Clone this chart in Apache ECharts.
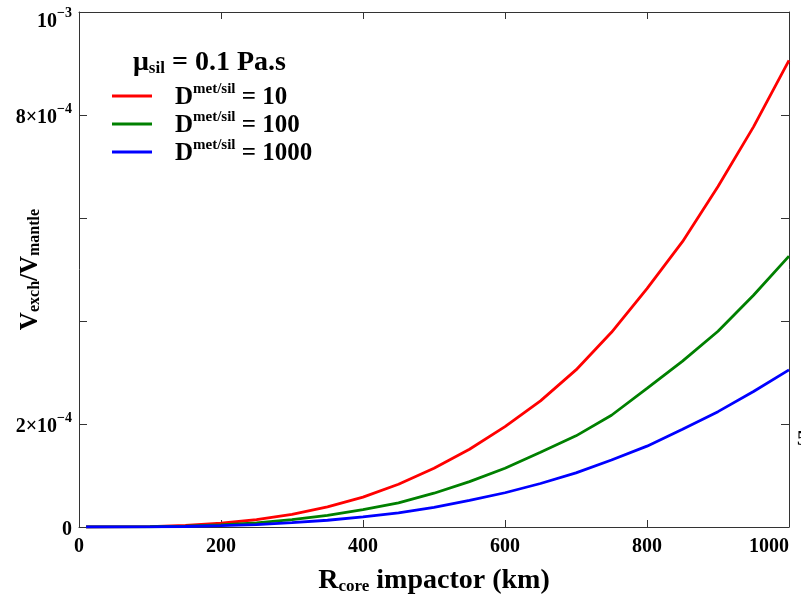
<!DOCTYPE html>
<html>
<head>
<meta charset="utf-8">
<script src="https://cdn.jsdelivr.net/npm/echarts@6/dist/echarts.min.js"></script>
<style>html,body{margin:0;padding:0;background:#fff;}#c{width:801px;height:599px;}</style>
</head>
<body>
<div id="c"></div>
<script>
// Radius of impactor core (km)
var rCore = [10, 50, 100, 150, 200, 250, 300, 350, 400, 450, 500, 550, 600, 650, 700, 750, 800, 850, 900, 950, 1000];
// V_exch / V_mantle for D = 10
var d10 = [0.00000e-4, 0.0011e-4, 0.009e-4, 0.031e-4, 0.073e-4, 0.142e-4, 0.245e-4, 0.39e-4, 0.58e-4, 0.83e-4, 1.14e-4, 1.51e-4, 1.95e-4, 2.45e-4, 3.05e-4, 3.78e-4, 4.63e-4, 5.54e-4, 6.61e-4, 7.77e-4, 9.06e-4];
// D = 100
var d100 = [0.00000e-4, 0.0007e-4, 0.005e-4, 0.018e-4, 0.042e-4, 0.082e-4, 0.142e-4, 0.226e-4, 0.337e-4, 0.47e-4, 0.656e-4, 0.88e-4, 1.14e-4, 1.45e-4, 1.77e-4, 2.17e-4, 2.69e-4, 3.22e-4, 3.80e-4, 4.50e-4, 5.26e-4];
// D = 1000
var d1000 = [0.00000e-4, 0.0004e-4, 0.003e-4, 0.010e-4, 0.025e-4, 0.048e-4, 0.083e-4, 0.131e-4, 0.196e-4, 0.275e-4, 0.38e-4, 0.515e-4, 0.665e-4, 0.845e-4, 1.05e-4, 1.30e-4, 1.57e-4, 1.90e-4, 2.24e-4, 2.63e-4, 3.05e-4];
var seriesNames = ['10', '100', '1000'];
// y tick labels (value in units of 1e-4 -> [mantissa text, exponent text]); ticks absent here are unlabeled
var yTickLabels = { 0: ['0', ''], 2: ['2×10', '−4'], 8: ['8×10', '−4'], 10: ['10', '−3'] };

var FONT = '"Liberation Serif", "Times New Roman", serif';
var chart = echarts.init(document.getElementById('c'), null, { renderer: 'canvas' });

function pairs(ys) { return rCore.map(function (x, i) { return [x, ys[i]]; }); }

var axisLineStyle = { color: '#333', width: 1 };
var option = {
  backgroundColor: '#fff',
  animation: false,
  grid: { left: 79, right: 12, top: 12, bottom: 72, containLabel: false, outerBoundsMode: 'none' },
  title: {
    text: '{m|μ}{s|sil}{m| = 0.1 Pa.s}',
    left: 128, top: 42,
    textStyle: {
      rich: {
        m: { fontFamily: FONT, fontWeight: 'bold', fontSize: 28, color: '#000', lineHeight: 30, verticalAlign: 'bottom' },
        s: { fontFamily: FONT, fontWeight: 'bold', fontSize: 17, color: '#000', lineHeight: 17, verticalAlign: 'bottom' }
      }
    }
  },
  legend: {
    orient: 'vertical',
    left: 107, top: 77,
    itemWidth: 40, itemHeight: 3, itemGap: 0,
    icon: 'rect',
    data: seriesNames.map(function (n) { return 'D' + n; }),
    formatter: function (name) {
      return '{d|D}{s|met/sil}{d| = ' + name.slice(1) + '}';
    },
    textStyle: {
      padding: [0, 0, 0, 18],
      rich: {
        d: { fontFamily: FONT, fontWeight: 'bold', fontSize: 25, color: '#000', lineHeight: 28, verticalAlign: 'bottom' },
        s: { fontFamily: FONT, fontWeight: 'bold', fontSize: 15, color: '#000', lineHeight: 13, verticalAlign: 'top' }
      }
    }
  },
  xAxis: [{
    type: 'value', min: 0, max: 1000, interval: 200, position: 'bottom',
    name: '{r|R}{s|core}{r| impactor (km)}',
    nameLocation: 'middle', nameGap: 36, nameMoveOverlap: false,
    nameTextStyle: {
      rich: {
        r: { fontFamily: FONT, fontWeight: 'bold', fontSize: 28, color: '#000', lineHeight: 32, verticalAlign: 'bottom' },
        s: { fontFamily: FONT, fontWeight: 'bold', fontSize: 17, color: '#000', lineHeight: 17, verticalAlign: 'bottom' }
      }
    },
    axisLine: { show: true, onZero: false, lineStyle: axisLineStyle },
    axisTick: { show: true, inside: true, length: 7, lineStyle: axisLineStyle },
    axisLabel: { fontFamily: FONT, fontWeight: 'bold', fontSize: 20, color: '#000', margin: 10,
      alignMaxLabel: 'right', hideOverlap: false,
      formatter: function (v) { return String(v); } },
    splitLine: { show: false }
  }, {
    type: 'value', min: 0, max: 1000, interval: 200, position: 'top',
    axisLine: { show: true, onZero: false, lineStyle: axisLineStyle },
    axisTick: { show: true, inside: true, length: 7, lineStyle: axisLineStyle },
    axisLabel: { show: false }, splitLine: { show: false }
  }],
  yAxis: [{
    type: 'value', min: 0, max: 0.001, interval: 0.0002, position: 'left',
    name: '{v|V}{s|exch}{v|/V}{s|mantle}',
    nameLocation: 'middle', nameGap: 36, nameRotate: 90, nameMoveOverlap: false,
    nameTextStyle: {
      rich: {
        v: { fontFamily: FONT, fontWeight: 'bold', fontSize: 25, color: '#000', lineHeight: 28, verticalAlign: 'bottom' },
        s: { fontFamily: FONT, fontWeight: 'bold', fontSize: 16, color: '#000', lineHeight: 16, verticalAlign: 'bottom' }
      }
    },
    axisLine: { show: true, onZero: false, lineStyle: axisLineStyle },
    axisTick: { show: true, inside: true, length: 8, lineStyle: axisLineStyle },
    axisLabel: {
      margin: 7,
      formatter: function (v) {
        var k = Math.round(v * 1e4);
        var t = yTickLabels[k];
        if (!t) return '';
        var s = '{b|' + t[0] + '}' + (t[1] ? '{s|' + t[1] + '}' : '');
        // top label sits a little below its tick so it stays inside the figure
        return k === 10 ? '{e| }\n' + s : s;
      },
      rich: {
        b: { fontFamily: FONT, fontWeight: 'bold', fontSize: 20, color: '#000', lineHeight: 26, verticalAlign: 'bottom' },
        s: { fontFamily: FONT, fontWeight: 'bold', fontSize: 14, color: '#000', lineHeight: 14, verticalAlign: 'top' },
        e: { fontSize: 10, lineHeight: 14 }
      }
    },
    splitLine: { show: false }
  }, {
    type: 'value', min: 0, max: 0.001, interval: 0.0002, position: 'right',
    axisLine: { show: true, onZero: false, lineStyle: axisLineStyle },
    axisTick: { show: true, inside: true, length: 8, lineStyle: axisLineStyle },
    axisLabel: { show: false }, splitLine: { show: false }
  }],
  graphic: [{
    type: 'text', left: 797, top: 430, silent: true,
    style: { text: '5', font: 'bold 20px ' + FONT, fill: '#000' }
  }],
  series: [
    { name: 'D10', type: 'line', data: pairs(d10), color: '#ff0000' },
    { name: 'D100', type: 'line', data: pairs(d100), color: '#008000' },
    { name: 'D1000', type: 'line', data: pairs(d1000), color: '#0000ff' }
  ].map(function (s) {
    s.showSymbol = false; s.symbol = 'none';
    s.lineStyle = { width: 2.8, color: s.color };
    s.itemStyle = { color: s.color };
    s.xAxisIndex = 0; s.yAxisIndex = 0;
    return s;
  })
};
chart.setOption(option);
</script>
</body>
</html>
